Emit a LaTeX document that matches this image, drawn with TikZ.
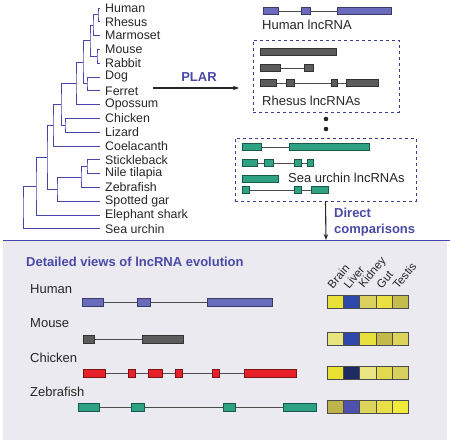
\documentclass[tikz,border=0pt]{standalone}
\usepackage{fontspec}
\setmainfont{Liberation Sans}
\usetikzlibrary{arrows.meta}

\definecolor{treeblue}{HTML}{4646AA}
\definecolor{titleblue}{HTML}{4A4AA6}
\definecolor{panelbg}{HTML}{EBEAF0}
\definecolor{humanexon}{HTML}{6B6BBE}
\definecolor{grayexon}{HTML}{5C5C5C}
\definecolor{greenexon}{HTML}{2FA283}
\definecolor{redexon}{HTML}{E8202A}
% expression cells
\definecolor{hA}{HTML}{E9E03A}\definecolor{hB}{HTML}{2D48A8}\definecolor{hC}{HTML}{D9D05E}\definecolor{hD}{HTML}{EAE042}\definecolor{hE}{HTML}{C4BC4C}
\definecolor{mA}{HTML}{E8E47E}\definecolor{mB}{HTML}{2D48A8}\definecolor{mC}{HTML}{E8E03C}\definecolor{mD}{HTML}{C2BA48}\definecolor{mE}{HTML}{DCD45A}
\definecolor{cA}{HTML}{EAE232}\definecolor{cB}{HTML}{1E2A62}\definecolor{cC}{HTML}{EAE684}\definecolor{cD}{HTML}{E2DA4E}\definecolor{cE}{HTML}{D8D05E}
\definecolor{zA}{HTML}{BEB54A}\definecolor{zB}{HTML}{4E50AE}\definecolor{zC}{HTML}{DDD45C}\definecolor{zD}{HTML}{E8E046}\definecolor{zE}{HTML}{F0EA3A}

\tikzset{
  branch/.style={treeblue, line width=0.9pt},
  leaf/.style={anchor=west, inner sep=0pt, text=black!85, font=\fontsize{12.4}{14}\selectfont},
  label/.style={anchor=west, inner sep=0pt, text=black!85, font=\fontsize{13}{15}\selectfont},
  bluetitle/.style={inner sep=0pt, text=titleblue, font=\bfseries\fontsize{13}{16}\selectfont},
  intron/.style={black!70, line width=0.8pt},
  exon/.style={draw=#1!55!black, fill=#1, line width=0.6pt},
  dashbox/.style={draw=treeblue!85!black, dashed, line width=0.9pt, minimum width=#1},
  cell/.style={draw=black!70, line width=0.8pt},
  tissue/.style={anchor=south west, rotate=50, inner sep=0pt, text=black!85, font=\fontsize{11.5}{13}\selectfont},
}

\begin{document}
\begin{tikzpicture}[x=1pt, y=-1pt, >={Stealth[length=6pt,width=4.5pt]}]
  \useasboundingbox (0,0) rectangle (450,443);

  \begin{scope}
    \foreach \name [count=\i from 0] in {Human,Rhesus,Marmoset,Mouse,Rabbit,Dog,Ferret,Opossum,Chicken,Lizard,Coelacanth,Stickleback,Nile tilapia,Zebrafish,Spotted gar,Elephant shark,Sea urchin}{
      \coordinate (leaf\i) at (100,8+13.8*\i);
      \node[leaf] (sp\i) at (105,8+13.8*\i) {\name};
    }
    \coordinate (a) at (98,14.9);
    \coordinate (b) at (93,25.3);
    \coordinate (c) at (97,56.3);
    \coordinate (d) at (90,40.8);
    \coordinate (e) at (87,83.9);
    \coordinate (f) at (83,62.3);
    \coordinate (g) at (76,83.5);
    \coordinate (h) at (65,125.3);
    \coordinate (i) at (61,104.4);
    \coordinate (j) at (53,125.2);
    \coordinate (k) at (87,166.7);
    \coordinate (l) at (81,177);
    \coordinate (m) at (57,189.1);
    \coordinate (n) at (47,157.2);
    \coordinate (o) at (36,186.1);
    \coordinate (p) at (23,207.5);
    \foreach \p/\u/\v in {a/leaf0/leaf1, b/a/leaf2, c/leaf3/leaf4, d/b/c, e/leaf5/leaf6,
                          f/d/e, g/f/leaf7, h/leaf8/leaf9, i/g/h, j/i/leaf10,
                          k/leaf11/leaf12, l/k/leaf13, m/l/leaf14, n/j/m, o/n/leaf15, p/o/leaf16}
      \draw[branch] (\u) -| (\p) |- (\v);
  \end{scope}

  \node[bluetitle] (plar) at (199,77) {PLAR};
  \coordinate (plarstart) at (153,88);
  \coordinate (plarend) at (239,88);
  \draw[->, line width=1.1pt, black!85] (plarstart) -- (plarend);

  \begin{scope}
    \draw[intron] (263,11) -- (391,11);
    \foreach \s/\e in {263/278, 301/310, 337/391}
      \draw[exon=humanexon] (\s,7.5) rectangle (\e,14.5);
    \node[label] (humanlnc) at (262,25) {Human lncRNA};
  \end{scope}

  \begin{scope}
    \node[dashbox=146pt, minimum height=72pt] (rhesusbox) at (326,76) {};
    \draw[exon=grayexon] (260,48.5) rectangle (336,55.5);
    \draw[intron] (260,68) -- (313,68);
    \foreach \s/\e in {260/280, 304/313}
      \draw[exon=grayexon] (\s,64.5) rectangle (\e,71.5);
    \draw[intron] (260,83) -- (378,83);
    \foreach \s/\e in {260/276, 286/294, 331/337, 346/378}
      \draw[exon=grayexon] (\s,79.5) rectangle (\e,86.5);
    \node[label] (rhesuslnc) at (262,101) {Rhesus lncRNAs};
  \end{scope}

  \fill[black!85] (326,119) circle (2.3) (326,129) circle (2.3);

  \begin{scope}
    \node[dashbox=181pt, minimum height=63pt] (urchinbox) at (325.5,169.5) {};
    \draw[intron] (242,147) -- (369,147);
    \foreach \s/\e in {242/261, 289/369}
      \draw[exon=greenexon] (\s,143.5) rectangle (\e,150.5);
    \draw[intron] (242,163) -- (313,163);
    \foreach \s/\e in {242/257, 264/273, 294/301, 307/313}
      \draw[exon=greenexon] (\s,159.5) rectangle (\e,166.5);
    \draw[exon=greenexon] (242,175.5) rectangle (278,182.5);
    \draw[intron] (242,190) -- (328,190);
    \foreach \s/\e in {242/249, 294/301, 311/328}
      \draw[exon=greenexon] (\s,186.5) rectangle (\e,193.5);
    \node[label] (urchinlnc) at (288,178) {Sea urchin lncRNAs};
  \end{scope}

  \fill[panelbg] (3,241) rectangle (447,440);
  \draw[treeblue, line width=1pt] (3,241) -- (450,241);

  \coordinate (paneltop) at (326,240);
  \draw[->, line width=1.1pt, black!85] (urchinbox.south) -- (paneltop);
  \node[bluetitle, anchor=west, align=left] (direct) at (334,222) {Direct\\comparisons};

  \node[bluetitle, anchor=west] (detail) at (26,262) {Detailed views of lncRNA evolution};

  \begin{scope}
    \node[label] (human) at (30,289) {Human};
    \draw[intron] (82,302) -- (272,302);
    \foreach \s/\e in {82/103, 137/150, 207/272}
      \draw[exon=humanexon] (\s,298) rectangle (\e,306);
    \node[label] (mouse) at (30,323) {Mouse};
    \draw[intron] (83,339) -- (183,339);
    \foreach \s/\e in {83/94, 142/183}
      \draw[exon=grayexon] (\s,335) rectangle (\e,343);
    \node[label] (chicken) at (30,358) {Chicken};
    \draw[intron] (83,373) -- (296,373);
    \foreach \s/\e in {83/105, 128/135, 148/162, 175/182, 212/219, 244/296}
      \draw[exon=redexon] (\s,369) rectangle (\e,377);
    \node[label] (zebrafish) at (30,392) {Zebrafish};
    \draw[intron] (78,407) -- (316,407);
    \foreach \s/\e in {78/99, 131/144, 223/235, 283/316}
      \draw[exon=greenexon] (\s,403) rectangle (\e,411);
  \end{scope}

  \begin{scope}
    \foreach \t [count=\k from 0] in {Brain,Liver,Kidney,Gut,Testis}
      \node[tissue] (tissue\k) at (333+16.3*\k,290) {\t};
    \foreach \r/\y in {h/302, m/338.5, c/373, z/407}
      \foreach \c [count=\k from 0] in {A,B,C,D,E}
        \draw[cell, fill=\r\c] (327+16.3*\k,\y-6.5) rectangle ++(16.3,13);
  \end{scope}
\end{tikzpicture}
\end{document}
